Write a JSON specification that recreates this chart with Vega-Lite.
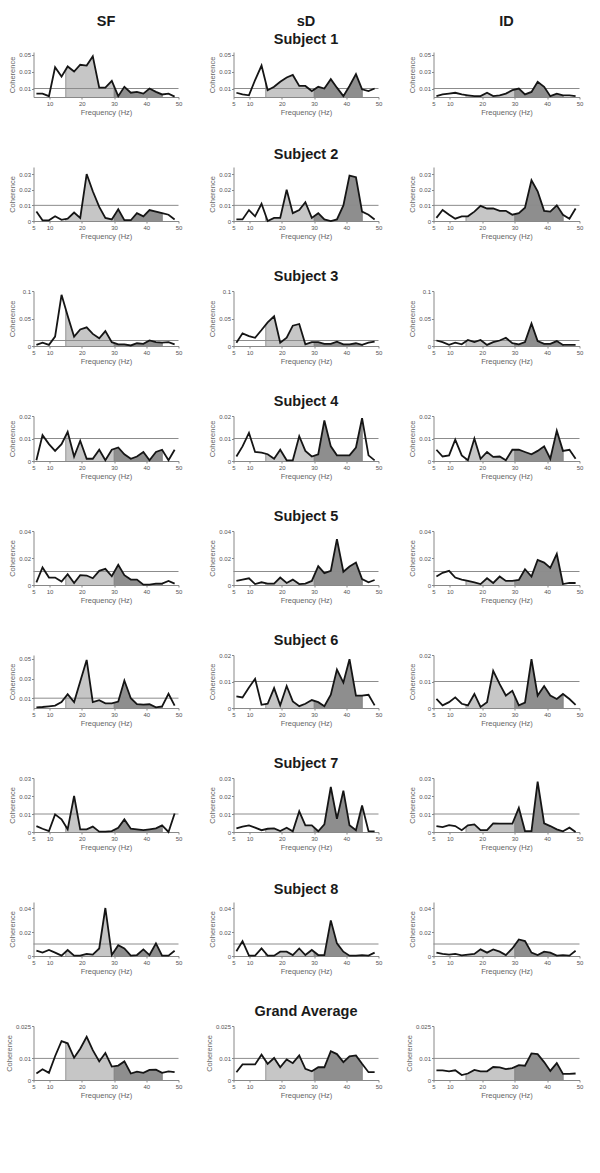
{
"$schema":"https://vega.github.io/schema/vega-lite/v6.json",
"padding":{"left":4.5,"top":14,"right":5,"bottom":5},
"background":"white",
"config":{
 "view":{"stroke":null},
 "font":"Liberation Sans",
 "title":{"font":"Liberation Sans","fontSize":14.5,"fontWeight":"bold","color":"#1a1a1a","offset":4,"lineHeight":18},
 "axis":{"labelFont":"Liberation Sans","titleFont":"Liberation Sans","labelFontSize":6,"titleFontSize":7.5,"titleFontWeight":"normal","labelColor":"#555","titleColor":"#666","domainColor":"#888","tickColor":"#888","tickSize":2,"labelPadding":1,"titlePadding":2,"grid":false,"zindex":1,"labelOverlap":false,"labelFlush":false,"labelBound":false}
},
"datasets":{
"bands":[{"x1":15,"x2":30,"band":"beta"},{"x1":30,"x2":45,"band":"gamma"}],
"edges":[{"e":15},{"e":30},{"e":45}],
"thr":[{"t":0.01}],
"r1a":[{"f":5.9,"c":0.004},{"f":7.8,"c":0.004},{"f":9.8,"c":0.001},{"f":11.7,"c":0.035},{"f":13.7,"c":0.024},{"f":15.6,"c":0.036},{"f":17.6,"c":0.030},{"f":19.5,"c":0.038},{"f":21.5,"c":0.037},{"f":23.4,"c":0.048},{"f":25.4,"c":0.011},{"f":27.3,"c":0.011},{"f":29.3,"c":0.019},{"f":31.3,"c":0.001},{"f":33.2,"c":0.012},{"f":35.2,"c":0.005},{"f":37.1,"c":0.006},{"f":39.1,"c":0.004},{"f":41.0,"c":0.010},{"f":43.0,"c":0.006},{"f":44.9,"c":0.003},{"f":46.9,"c":0.004},{"f":48.8,"c":0.0005}],
"r1b":[{"f":5.9,"c":0.005},{"f":7.8,"c":0.003},{"f":9.8,"c":0.002},{"f":11.7,"c":0.020},{"f":13.7,"c":0.037},{"f":15.6,"c":0.008},{"f":17.6,"c":0.012},{"f":19.5,"c":0.018},{"f":21.5,"c":0.023},{"f":23.4,"c":0.026},{"f":25.4,"c":0.013},{"f":27.3,"c":0.013},{"f":29.3,"c":0.007},{"f":31.3,"c":0.012},{"f":33.2,"c":0.010},{"f":35.2,"c":0.021},{"f":37.1,"c":0.011},{"f":39.1,"c":0.001},{"f":41.0,"c":0.013},{"f":43.0,"c":0.027},{"f":44.9,"c":0.009},{"f":46.9,"c":0.007},{"f":48.8,"c":0.010}],
"r1c":[{"f":5.9,"c":0.001},{"f":7.8,"c":0.003},{"f":9.8,"c":0.004},{"f":11.7,"c":0.005},{"f":13.7,"c":0.003},{"f":15.6,"c":0.002},{"f":17.6,"c":0.001},{"f":19.5,"c":0.001},{"f":21.5,"c":0.005},{"f":23.4,"c":0.001},{"f":25.4,"c":0.002},{"f":27.3,"c":0.004},{"f":29.3,"c":0.008},{"f":31.3,"c":0.010},{"f":33.2,"c":0.003},{"f":35.2,"c":0.006},{"f":37.1,"c":0.018},{"f":39.1,"c":0.012},{"f":41.0,"c":0.001},{"f":43.0,"c":0.004},{"f":44.9,"c":0.002},{"f":46.9,"c":0.002},{"f":48.8,"c":0.001}],
"r2a":[{"f":5.9,"c":0.006},{"f":7.8,"c":0.0004},{"f":9.8,"c":0.0004},{"f":11.7,"c":0.003},{"f":13.7,"c":0.0007},{"f":15.6,"c":0.0015},{"f":17.6,"c":0.0054},{"f":19.5,"c":0.002},{"f":21.5,"c":0.030},{"f":23.4,"c":0.019},{"f":25.4,"c":0.009},{"f":27.3,"c":0.002},{"f":29.3,"c":0.001},{"f":31.3,"c":0.0075},{"f":33.2,"c":0.0005},{"f":35.2,"c":0.0005},{"f":37.1,"c":0.005},{"f":39.1,"c":0.003},{"f":41.0,"c":0.007},{"f":43.0,"c":0.006},{"f":44.9,"c":0.005},{"f":46.9,"c":0.004},{"f":48.8,"c":0.001}],
"r2b":[{"f":5.9,"c":0.001},{"f":7.8,"c":0.001},{"f":9.8,"c":0.007},{"f":11.7,"c":0.003},{"f":13.7,"c":0.011},{"f":15.6,"c":0.0},{"f":17.6,"c":0.002},{"f":19.5,"c":0.002},{"f":21.5,"c":0.020},{"f":23.4,"c":0.005},{"f":25.4,"c":0.007},{"f":27.3,"c":0.012},{"f":29.3,"c":0.002},{"f":31.3,"c":0.005},{"f":33.2,"c":0.001},{"f":35.2,"c":0.0},{"f":37.1,"c":0.001},{"f":39.1,"c":0.010},{"f":41.0,"c":0.029},{"f":43.0,"c":0.028},{"f":44.9,"c":0.006},{"f":46.9,"c":0.004},{"f":48.8,"c":0.001}],
"r2c":[{"f":5.9,"c":0.002},{"f":7.8,"c":0.007},{"f":9.8,"c":0.004},{"f":11.7,"c":0.0015},{"f":13.7,"c":0.003},{"f":15.6,"c":0.003},{"f":17.6,"c":0.006},{"f":19.5,"c":0.0097},{"f":21.5,"c":0.008},{"f":23.4,"c":0.008},{"f":25.4,"c":0.0065},{"f":27.3,"c":0.0065},{"f":29.3,"c":0.004},{"f":31.3,"c":0.005},{"f":33.2,"c":0.0085},{"f":35.2,"c":0.026},{"f":37.1,"c":0.019},{"f":39.1,"c":0.0065},{"f":41.0,"c":0.006},{"f":43.0,"c":0.010},{"f":44.9,"c":0.004},{"f":46.9,"c":0.0015},{"f":48.8,"c":0.008}],
"r3a":[{"f":5.9,"c":0.002},{"f":7.8,"c":0.006},{"f":9.8,"c":0.002},{"f":11.7,"c":0.017},{"f":13.7,"c":0.093},{"f":15.6,"c":0.055},{"f":17.6,"c":0.017},{"f":19.5,"c":0.030},{"f":21.5,"c":0.034},{"f":23.4,"c":0.022},{"f":25.4,"c":0.014},{"f":27.3,"c":0.027},{"f":29.3,"c":0.007},{"f":31.3,"c":0.003},{"f":33.2,"c":0.003},{"f":35.2,"c":0.001},{"f":37.1,"c":0.005},{"f":39.1,"c":0.004},{"f":41.0,"c":0.010},{"f":43.0,"c":0.007},{"f":44.9,"c":0.006},{"f":46.9,"c":0.007},{"f":48.8,"c":0.003}],
"r3b":[{"f":5.9,"c":0.006},{"f":7.8,"c":0.023},{"f":9.8,"c":0.018},{"f":11.7,"c":0.015},{"f":13.7,"c":0.029},{"f":15.6,"c":0.043},{"f":17.6,"c":0.054},{"f":19.5,"c":0.006},{"f":21.5,"c":0.015},{"f":23.4,"c":0.037},{"f":25.4,"c":0.040},{"f":27.3,"c":0.003},{"f":29.3,"c":0.007},{"f":31.3,"c":0.007},{"f":33.2,"c":0.004},{"f":35.2,"c":0.004},{"f":37.1,"c":0.008},{"f":39.1,"c":0.003},{"f":41.0,"c":0.003},{"f":43.0,"c":0.005},{"f":44.9,"c":0.002},{"f":46.9,"c":0.006},{"f":48.8,"c":0.008}],
"r3c":[{"f":5.9,"c":0.010},{"f":7.8,"c":0.007},{"f":9.8,"c":0.002},{"f":11.7,"c":0.006},{"f":13.7,"c":0.003},{"f":15.6,"c":0.011},{"f":17.6,"c":0.007},{"f":19.5,"c":0.011},{"f":21.5,"c":0.002},{"f":23.4,"c":0.007},{"f":25.4,"c":0.010},{"f":27.3,"c":0.015},{"f":29.3,"c":0.005},{"f":31.3,"c":0.003},{"f":33.2,"c":0.007},{"f":35.2,"c":0.041},{"f":37.1,"c":0.009},{"f":39.1,"c":0.004},{"f":41.0,"c":0.004},{"f":43.0,"c":0.009},{"f":44.9,"c":0.002},{"f":46.9,"c":0.002},{"f":48.8,"c":0.002}],
"r4a":[{"f":5.9,"c":0.0003},{"f":7.8,"c":0.0115},{"f":9.8,"c":0.0075},{"f":11.7,"c":0.0045},{"f":13.7,"c":0.0075},{"f":15.6,"c":0.013},{"f":17.6,"c":0.002},{"f":19.5,"c":0.009},{"f":21.5,"c":0.001},{"f":23.4,"c":0.001},{"f":25.4,"c":0.005},{"f":27.3,"c":0.0003},{"f":29.3,"c":0.005},{"f":31.3,"c":0.006},{"f":33.2,"c":0.003},{"f":35.2,"c":0.001},{"f":37.1,"c":0.002},{"f":39.1,"c":0.004},{"f":41.0,"c":0.0003},{"f":43.0,"c":0.004},{"f":44.9,"c":0.005},{"f":46.9,"c":0.0003},{"f":48.8,"c":0.005}],
"r4b":[{"f":5.9,"c":0.002},{"f":7.8,"c":0.0065},{"f":9.8,"c":0.0125},{"f":11.7,"c":0.004},{"f":13.7,"c":0.0037},{"f":15.6,"c":0.003},{"f":17.6,"c":0.001},{"f":19.5,"c":0.005},{"f":21.5,"c":0.0003},{"f":23.4,"c":0.0003},{"f":25.4,"c":0.011},{"f":27.3,"c":0.0045},{"f":29.3,"c":0.002},{"f":31.3,"c":0.003},{"f":33.2,"c":0.018},{"f":35.2,"c":0.0065},{"f":37.1,"c":0.0025},{"f":39.1,"c":0.0025},{"f":41.0,"c":0.0025},{"f":43.0,"c":0.006},{"f":44.9,"c":0.019},{"f":46.9,"c":0.0025},{"f":48.8,"c":0.0003}],
"r4c":[{"f":5.9,"c":0.005},{"f":7.8,"c":0.002},{"f":9.8,"c":0.0025},{"f":11.7,"c":0.0095},{"f":13.7,"c":0.0025},{"f":15.6,"c":0.0003},{"f":17.6,"c":0.010},{"f":19.5,"c":0.001},{"f":21.5,"c":0.004},{"f":23.4,"c":0.0018},{"f":25.4,"c":0.002},{"f":27.3,"c":0.0003},{"f":29.3,"c":0.005},{"f":31.3,"c":0.005},{"f":33.2,"c":0.004},{"f":35.2,"c":0.003},{"f":37.1,"c":0.0045},{"f":39.1,"c":0.0065},{"f":41.0,"c":0.001},{"f":43.0,"c":0.0135},{"f":44.9,"c":0.0045},{"f":46.9,"c":0.005},{"f":48.8,"c":0.001}],
"r5a":[{"f":5.9,"c":0.002},{"f":7.8,"c":0.013},{"f":9.8,"c":0.0055},{"f":11.7,"c":0.0055},{"f":13.7,"c":0.0025},{"f":15.6,"c":0.008},{"f":17.6,"c":0.0015},{"f":19.5,"c":0.0073},{"f":21.5,"c":0.007},{"f":23.4,"c":0.005},{"f":25.4,"c":0.0105},{"f":27.3,"c":0.012},{"f":29.3,"c":0.0065},{"f":31.3,"c":0.015},{"f":33.2,"c":0.0073},{"f":35.2,"c":0.004},{"f":37.1,"c":0.004},{"f":39.1,"c":0.0003},{"f":41.0,"c":0.0003},{"f":43.0,"c":0.001},{"f":44.9,"c":0.001},{"f":46.9,"c":0.003},{"f":48.8,"c":0.001}],
"r5b":[{"f":5.9,"c":0.003},{"f":7.8,"c":0.004},{"f":9.8,"c":0.005},{"f":11.7,"c":0.0007},{"f":13.7,"c":0.002},{"f":15.6,"c":0.001},{"f":17.6,"c":0.001},{"f":19.5,"c":0.0055},{"f":21.5,"c":0.0015},{"f":23.4,"c":0.004},{"f":25.4,"c":0.0007},{"f":27.3,"c":0.001},{"f":29.3,"c":0.003},{"f":31.3,"c":0.014},{"f":33.2,"c":0.0088},{"f":35.2,"c":0.0105},{"f":37.1,"c":0.034},{"f":39.1,"c":0.0098},{"f":41.0,"c":0.0137},{"f":43.0,"c":0.0166},{"f":44.9,"c":0.0044},{"f":46.9,"c":0.002},{"f":48.8,"c":0.0037}],
"r5c":[{"f":5.9,"c":0.0063},{"f":7.8,"c":0.009},{"f":9.8,"c":0.0105},{"f":11.7,"c":0.0055},{"f":13.7,"c":0.004},{"f":15.6,"c":0.003},{"f":17.6,"c":0.002},{"f":19.5,"c":0.0007},{"f":21.5,"c":0.005},{"f":23.4,"c":0.0015},{"f":25.4,"c":0.0063},{"f":27.3,"c":0.003},{"f":29.3,"c":0.003},{"f":31.3,"c":0.0037},{"f":33.2,"c":0.0117},{"f":35.2,"c":0.0063},{"f":37.1,"c":0.0185},{"f":39.1,"c":0.0166},{"f":41.0,"c":0.0127},{"f":43.0,"c":0.023},{"f":44.9,"c":0.0007},{"f":46.9,"c":0.0015},{"f":48.8,"c":0.0015}],
"r6a":[{"f":5.9,"c":0.0007},{"f":7.8,"c":0.001},{"f":9.8,"c":0.0017},{"f":11.7,"c":0.0024},{"f":13.7,"c":0.006},{"f":15.6,"c":0.014},{"f":17.6,"c":0.006},{"f":19.5,"c":0.027},{"f":21.5,"c":0.049},{"f":23.4,"c":0.006},{"f":25.4,"c":0.008},{"f":27.3,"c":0.0048},{"f":29.3,"c":0.0048},{"f":31.3,"c":0.0066},{"f":33.2,"c":0.028},{"f":35.2,"c":0.010},{"f":37.1,"c":0.004},{"f":39.1,"c":0.0034},{"f":41.0,"c":0.0038},{"f":43.0,"c":0.0007},{"f":44.9,"c":0.0017},{"f":46.9,"c":0.0145},{"f":48.8,"c":0.0024}],
"r6b":[{"f":5.9,"c":0.0044},{"f":7.8,"c":0.004},{"f":9.8,"c":0.0077},{"f":11.7,"c":0.011},{"f":13.7,"c":0.0012},{"f":15.6,"c":0.0016},{"f":17.6,"c":0.0075},{"f":19.5,"c":0.001},{"f":21.5,"c":0.0083},{"f":23.4,"c":0.0025},{"f":25.4,"c":0.0007},{"f":27.3,"c":0.0016},{"f":29.3,"c":0.003},{"f":31.3,"c":0.0022},{"f":33.2,"c":0.0007},{"f":35.2,"c":0.005},{"f":37.1,"c":0.0145},{"f":39.1,"c":0.0096},{"f":41.0,"c":0.0184},{"f":43.0,"c":0.0047},{"f":44.9,"c":0.0047},{"f":46.9,"c":0.005},{"f":48.8,"c":0.001}],
"r6c":[{"f":5.9,"c":0.0034},{"f":7.8,"c":0.001},{"f":9.8,"c":0.0022},{"f":11.7,"c":0.004},{"f":13.7,"c":0.0016},{"f":15.6,"c":0.001},{"f":17.6,"c":0.0053},{"f":19.5,"c":0.0004},{"f":21.5,"c":0.0022},{"f":23.4,"c":0.014},{"f":25.4,"c":0.009},{"f":27.3,"c":0.0047},{"f":29.3,"c":0.0065},{"f":31.3,"c":0.001},{"f":33.2,"c":0.002},{"f":35.2,"c":0.0184},{"f":37.1,"c":0.0047},{"f":39.1,"c":0.0083},{"f":41.0,"c":0.0047},{"f":43.0,"c":0.0034},{"f":44.9,"c":0.0053},{"f":46.9,"c":0.0034},{"f":48.8,"c":0.0012}],
"r7a":[{"f":5.9,"c":0.0033},{"f":7.8,"c":0.0018},{"f":9.8,"c":0.0005},{"f":11.7,"c":0.0098},{"f":13.7,"c":0.007},{"f":15.6,"c":0.0015},{"f":17.6,"c":0.020},{"f":19.5,"c":0.0015},{"f":21.5,"c":0.0015},{"f":23.4,"c":0.003},{"f":25.4,"c":0.0002},{"f":27.3,"c":0.0002},{"f":29.3,"c":0.0005},{"f":31.3,"c":0.0024},{"f":33.2,"c":0.007},{"f":35.2,"c":0.0018},{"f":37.1,"c":0.0015},{"f":39.1,"c":0.001},{"f":41.0,"c":0.0015},{"f":43.0,"c":0.002},{"f":44.9,"c":0.0037},{"f":46.9,"c":0.0},{"f":48.8,"c":0.0103}],
"r7b":[{"f":5.9,"c":0.002},{"f":7.8,"c":0.003},{"f":9.8,"c":0.0037},{"f":11.7,"c":0.0024},{"f":13.7,"c":0.001},{"f":15.6,"c":0.0018},{"f":17.6,"c":0.002},{"f":19.5,"c":0.0005},{"f":21.5,"c":0.0024},{"f":23.4,"c":0.0004},{"f":25.4,"c":0.0115},{"f":27.3,"c":0.0037},{"f":29.3,"c":0.0037},{"f":31.3,"c":0.0004},{"f":33.2,"c":0.0042},{"f":35.2,"c":0.025},{"f":37.1,"c":0.0073},{"f":39.1,"c":0.023},{"f":41.0,"c":0.0037},{"f":43.0,"c":0.001},{"f":44.9,"c":0.0147},{"f":46.9,"c":0.0005},{"f":48.8,"c":0.0004}],
"r7c":[{"f":5.9,"c":0.0033},{"f":7.8,"c":0.0027},{"f":9.8,"c":0.0038},{"f":11.7,"c":0.0033},{"f":13.7,"c":0.001},{"f":15.6,"c":0.0037},{"f":17.6,"c":0.0042},{"f":19.5,"c":0.001},{"f":21.5,"c":0.001},{"f":23.4,"c":0.0048},{"f":25.4,"c":0.0046},{"f":27.3,"c":0.0046},{"f":29.3,"c":0.0046},{"f":31.3,"c":0.0134},{"f":33.2,"c":0.0005},{"f":35.2,"c":0.0005},{"f":37.1,"c":0.028},{"f":39.1,"c":0.0048},{"f":41.0,"c":0.0033},{"f":43.0,"c":0.0015},{"f":44.9,"c":0.0004},{"f":46.9,"c":0.0024},{"f":48.8,"c":0.0}],
"r8a":[{"f":5.9,"c":0.0044},{"f":7.8,"c":0.0028},{"f":9.8,"c":0.005},{"f":11.7,"c":0.0028},{"f":13.7,"c":0.0003},{"f":15.6,"c":0.005},{"f":17.6,"c":0.0003},{"f":19.5,"c":0.0003},{"f":21.5,"c":0.0017},{"f":23.4,"c":0.0011},{"f":25.4,"c":0.0063},{"f":27.3,"c":0.040},{"f":29.3,"c":0.0008},{"f":31.3,"c":0.009},{"f":33.2,"c":0.0063},{"f":35.2,"c":0.0003},{"f":37.1,"c":0.0008},{"f":39.1,"c":0.0055},{"f":41.0,"c":0.0008},{"f":43.0,"c":0.0105},{"f":44.9,"c":0.0003},{"f":46.9,"c":0.0003},{"f":48.8,"c":0.0044}],
"r8b":[{"f":5.9,"c":0.004},{"f":7.8,"c":0.0124},{"f":9.8,"c":0.0003},{"f":11.7,"c":0.0003},{"f":13.7,"c":0.0063},{"f":15.6,"c":0.0003},{"f":17.6,"c":0.0003},{"f":19.5,"c":0.0036},{"f":21.5,"c":0.0036},{"f":23.4,"c":0.0008},{"f":25.4,"c":0.0063},{"f":27.3,"c":0.0008},{"f":29.3,"c":0.005},{"f":31.3,"c":0.0008},{"f":33.2,"c":0.0008},{"f":35.2,"c":0.0297},{"f":37.1,"c":0.0105},{"f":39.1,"c":0.0036},{"f":41.0,"c":0.0003},{"f":43.0,"c":0.0003},{"f":44.9,"c":0.0008},{"f":46.9,"c":0.0003},{"f":48.8,"c":0.0028}],
"r8c":[{"f":5.9,"c":0.0028},{"f":7.8,"c":0.0017},{"f":9.8,"c":0.0011},{"f":11.7,"c":0.0017},{"f":13.7,"c":0.0006},{"f":15.6,"c":0.0011},{"f":17.6,"c":0.0017},{"f":19.5,"c":0.0055},{"f":21.5,"c":0.0028},{"f":23.4,"c":0.0055},{"f":25.4,"c":0.0036},{"f":27.3,"c":0.0008},{"f":29.3,"c":0.0063},{"f":31.3,"c":0.0138},{"f":33.2,"c":0.0124},{"f":35.2,"c":0.0028},{"f":37.1,"c":0.0008},{"f":39.1,"c":0.0036},{"f":41.0,"c":0.0028},{"f":43.0,"c":0.0003},{"f":44.9,"c":0.0008},{"f":46.9,"c":0.0003},{"f":48.8,"c":0.0044}],
"r9a":[{"f":5.9,"c":0.003},{"f":7.8,"c":0.005},{"f":9.8,"c":0.0033},{"f":11.7,"c":0.011},{"f":13.7,"c":0.018},{"f":15.6,"c":0.017},{"f":17.6,"c":0.0103},{"f":19.5,"c":0.0145},{"f":21.5,"c":0.020},{"f":23.4,"c":0.0138},{"f":25.4,"c":0.0086},{"f":27.3,"c":0.0125},{"f":29.3,"c":0.0062},{"f":31.3,"c":0.0067},{"f":33.2,"c":0.0086},{"f":35.2,"c":0.003},{"f":37.1,"c":0.0039},{"f":39.1,"c":0.0033},{"f":41.0,"c":0.0047},{"f":43.0,"c":0.0048},{"f":44.9,"c":0.0033},{"f":46.9,"c":0.004},{"f":48.8,"c":0.0036}],
"r9b":[{"f":5.9,"c":0.0036},{"f":7.8,"c":0.0072},{"f":9.8,"c":0.0072},{"f":11.7,"c":0.0072},{"f":13.7,"c":0.0117},{"f":15.6,"c":0.0075},{"f":17.6,"c":0.0102},{"f":19.5,"c":0.0059},{"f":21.5,"c":0.0095},{"f":23.4,"c":0.0078},{"f":25.4,"c":0.0114},{"f":27.3,"c":0.0052},{"f":29.3,"c":0.004},{"f":31.3,"c":0.0059},{"f":33.2,"c":0.0059},{"f":35.2,"c":0.0133},{"f":37.1,"c":0.012},{"f":39.1,"c":0.0083},{"f":41.0,"c":0.011},{"f":43.0,"c":0.0114},{"f":44.9,"c":0.0075},{"f":46.9,"c":0.0036},{"f":48.8,"c":0.0036}],
"r9c":[{"f":5.9,"c":0.0045},{"f":7.8,"c":0.0045},{"f":9.8,"c":0.004},{"f":11.7,"c":0.0045},{"f":13.7,"c":0.0023},{"f":15.6,"c":0.003},{"f":17.6,"c":0.0047},{"f":19.5,"c":0.004},{"f":21.5,"c":0.004},{"f":23.4,"c":0.006},{"f":25.4,"c":0.0058},{"f":27.3,"c":0.005},{"f":29.3,"c":0.0055},{"f":31.3,"c":0.0069},{"f":33.2,"c":0.0066},{"f":35.2,"c":0.0123},{"f":37.1,"c":0.012},{"f":39.1,"c":0.0083},{"f":41.0,"c":0.0042},{"f":43.0,"c":0.0078},{"f":44.9,"c":0.0028},{"f":46.9,"c":0.0028},{"f":48.8,"c":0.003}]
},
"columns":3,
"spacing":{"row":70,"column":55},
"bounds":"flush",
"concat":[
{"width":145,"height":45,"title":{"text":["SF"," "]},"layer":[
{"data":{"name":"bands"},"mark":{"type":"rect"},"encoding":{"x":{"field":"x1","type":"quantitative","axis":{"title":"Frequency (Hz)"}},"x2":{"field":"x2"},"color":{"field":"band","type":"nominal","scale":{"domain":["beta","gamma"],"range":["#c6c6c6","#8e8e8e"]},"legend":null}}},
{"data":{"name":"edges"},"mark":{"type":"rule","color":"#7a7a7a","strokeWidth":0.7},"encoding":{"x":{"field":"e","type":"quantitative","axis":{"title":"Frequency (Hz)"}}}},
{"data":{"name":"r1a"},"mark":{"type":"area","color":"white"},"encoding":{"x":{"field":"f","type":"quantitative","axis":{"title":"Frequency (Hz)"}},"y":{"field":"c","type":"quantitative","axis":{"title":"Coherence"}},"y2":{"datum":0.053}}},
{"data":{"name":"thr"},"mark":{"type":"rule","color":"#8c8c8c","strokeWidth":1},"encoding":{"y":{"field":"t","type":"quantitative","axis":{"title":"Coherence"}}}},
{"data":{"name":"r1a"},"mark":{"type":"line","color":"#151515","strokeWidth":1.8},"encoding":{"x":{"field":"f","type":"quantitative","scale":{"domain":[5,50],"nice":false,"zero":false},"axis":{"values":[10,20,30,40,50],"tickCount":20,"format":"d","labelOverlap":false,"title":"Frequency (Hz)"}},"y":{"field":"c","type":"quantitative","scale":{"domain":[0,0.053],"nice":false},"axis":{"values":[0.01,0.03,0.05],"tickCount":20,"format":".3~f","labelOverlap":false,"title":"Coherence"}}}}]},
{"width":145,"height":45,"title":{"text":["sD","Subject 1"]},"layer":[
{"data":{"name":"bands"},"mark":{"type":"rect"},"encoding":{"x":{"field":"x1","type":"quantitative","axis":{"title":"Frequency (Hz)"}},"x2":{"field":"x2"},"color":{"field":"band","type":"nominal","scale":{"domain":["beta","gamma"],"range":["#c6c6c6","#8e8e8e"]},"legend":null}}},
{"data":{"name":"edges"},"mark":{"type":"rule","color":"#7a7a7a","strokeWidth":0.7},"encoding":{"x":{"field":"e","type":"quantitative","axis":{"title":"Frequency (Hz)"}}}},
{"data":{"name":"r1b"},"mark":{"type":"area","color":"white"},"encoding":{"x":{"field":"f","type":"quantitative","axis":{"title":"Frequency (Hz)"}},"y":{"field":"c","type":"quantitative","axis":{"title":"Coherence"}},"y2":{"datum":0.053}}},
{"data":{"name":"thr"},"mark":{"type":"rule","color":"#8c8c8c","strokeWidth":1},"encoding":{"y":{"field":"t","type":"quantitative","axis":{"title":"Coherence"}}}},
{"data":{"name":"r1b"},"mark":{"type":"line","color":"#151515","strokeWidth":1.8},"encoding":{"x":{"field":"f","type":"quantitative","scale":{"domain":[5,50],"nice":false,"zero":false},"axis":{"values":[5,10,20,30,40,50],"tickCount":20,"format":"d","labelOverlap":false,"title":"Frequency (Hz)"}},"y":{"field":"c","type":"quantitative","scale":{"domain":[0,0.053],"nice":false},"axis":{"values":[0.01,0.03,0.05],"tickCount":20,"format":".3~f","labelOverlap":false,"title":"Coherence"}}}}]},
{"width":146,"height":45,"title":{"text":["ID"," "]},"layer":[
{"data":{"name":"bands"},"mark":{"type":"rect"},"encoding":{"x":{"field":"x1","type":"quantitative","axis":{"title":"Frequency (Hz)"}},"x2":{"field":"x2"},"color":{"field":"band","type":"nominal","scale":{"domain":["beta","gamma"],"range":["#c6c6c6","#8e8e8e"]},"legend":null}}},
{"data":{"name":"edges"},"mark":{"type":"rule","color":"#7a7a7a","strokeWidth":0.7},"encoding":{"x":{"field":"e","type":"quantitative","axis":{"title":"Frequency (Hz)"}}}},
{"data":{"name":"r1c"},"mark":{"type":"area","color":"white"},"encoding":{"x":{"field":"f","type":"quantitative","axis":{"title":"Frequency (Hz)"}},"y":{"field":"c","type":"quantitative","axis":{"title":"Coherence"}},"y2":{"datum":0.053}}},
{"data":{"name":"thr"},"mark":{"type":"rule","color":"#8c8c8c","strokeWidth":1},"encoding":{"y":{"field":"t","type":"quantitative","axis":{"title":"Coherence"}}}},
{"data":{"name":"r1c"},"mark":{"type":"line","color":"#151515","strokeWidth":1.8},"encoding":{"x":{"field":"f","type":"quantitative","scale":{"domain":[5,50],"nice":false,"zero":false},"axis":{"values":[5,10,20,30,40,50],"tickCount":20,"format":"d","labelOverlap":false,"title":"Frequency (Hz)"}},"y":{"field":"c","type":"quantitative","scale":{"domain":[0,0.053],"nice":false},"axis":{"values":[0.01,0.03,0.05],"tickCount":20,"format":".3~f","labelOverlap":false,"title":"Coherence"}}}}]},
{"width":145,"height":54,"layer":[
{"data":{"name":"bands"},"mark":{"type":"rect"},"encoding":{"x":{"field":"x1","type":"quantitative","axis":{"title":"Frequency (Hz)"}},"x2":{"field":"x2"},"color":{"field":"band","type":"nominal","scale":{"domain":["beta","gamma"],"range":["#c6c6c6","#8e8e8e"]},"legend":null}}},
{"data":{"name":"edges"},"mark":{"type":"rule","color":"#7a7a7a","strokeWidth":0.7},"encoding":{"x":{"field":"e","type":"quantitative","axis":{"title":"Frequency (Hz)"}}}},
{"data":{"name":"r2a"},"mark":{"type":"area","color":"white"},"encoding":{"x":{"field":"f","type":"quantitative","axis":{"title":"Frequency (Hz)"}},"y":{"field":"c","type":"quantitative","axis":{"title":"Coherence"}},"y2":{"datum":0.0345}}},
{"data":{"name":"thr"},"mark":{"type":"rule","color":"#8c8c8c","strokeWidth":1},"encoding":{"y":{"field":"t","type":"quantitative","axis":{"title":"Coherence"}}}},
{"data":{"name":"r2a"},"mark":{"type":"line","color":"#151515","strokeWidth":1.8},"encoding":{"x":{"field":"f","type":"quantitative","scale":{"domain":[5,50],"nice":false,"zero":false},"axis":{"values":[5,10,20,30,40,50],"tickCount":20,"format":"d","labelOverlap":false,"title":"Frequency (Hz)"}},"y":{"field":"c","type":"quantitative","scale":{"domain":[0,0.0345],"nice":false},"axis":{"values":[0,0.01,0.02,0.03],"tickCount":20,"format":".3~f","labelOverlap":false,"title":"Coherence"}}}}]},
{"width":145,"height":54,"title":{"text":"Subject 2"},"layer":[
{"data":{"name":"bands"},"mark":{"type":"rect"},"encoding":{"x":{"field":"x1","type":"quantitative","axis":{"title":"Frequency (Hz)"}},"x2":{"field":"x2"},"color":{"field":"band","type":"nominal","scale":{"domain":["beta","gamma"],"range":["#c6c6c6","#8e8e8e"]},"legend":null}}},
{"data":{"name":"edges"},"mark":{"type":"rule","color":"#7a7a7a","strokeWidth":0.7},"encoding":{"x":{"field":"e","type":"quantitative","axis":{"title":"Frequency (Hz)"}}}},
{"data":{"name":"r2b"},"mark":{"type":"area","color":"white"},"encoding":{"x":{"field":"f","type":"quantitative","axis":{"title":"Frequency (Hz)"}},"y":{"field":"c","type":"quantitative","axis":{"title":"Coherence"}},"y2":{"datum":0.0345}}},
{"data":{"name":"thr"},"mark":{"type":"rule","color":"#8c8c8c","strokeWidth":1},"encoding":{"y":{"field":"t","type":"quantitative","axis":{"title":"Coherence"}}}},
{"data":{"name":"r2b"},"mark":{"type":"line","color":"#151515","strokeWidth":1.8},"encoding":{"x":{"field":"f","type":"quantitative","scale":{"domain":[5,50],"nice":false,"zero":false},"axis":{"values":[5,10,20,30,40,50],"tickCount":20,"format":"d","labelOverlap":false,"title":"Frequency (Hz)"}},"y":{"field":"c","type":"quantitative","scale":{"domain":[0,0.0345],"nice":false},"axis":{"values":[0,0.01,0.02,0.03],"tickCount":20,"format":".3~f","labelOverlap":false,"title":"Coherence"}}}}]},
{"width":146,"height":54,"layer":[
{"data":{"name":"bands"},"mark":{"type":"rect"},"encoding":{"x":{"field":"x1","type":"quantitative","axis":{"title":"Frequency (Hz)"}},"x2":{"field":"x2"},"color":{"field":"band","type":"nominal","scale":{"domain":["beta","gamma"],"range":["#c6c6c6","#8e8e8e"]},"legend":null}}},
{"data":{"name":"edges"},"mark":{"type":"rule","color":"#7a7a7a","strokeWidth":0.7},"encoding":{"x":{"field":"e","type":"quantitative","axis":{"title":"Frequency (Hz)"}}}},
{"data":{"name":"r2c"},"mark":{"type":"area","color":"white"},"encoding":{"x":{"field":"f","type":"quantitative","axis":{"title":"Frequency (Hz)"}},"y":{"field":"c","type":"quantitative","axis":{"title":"Coherence"}},"y2":{"datum":0.0345}}},
{"data":{"name":"thr"},"mark":{"type":"rule","color":"#8c8c8c","strokeWidth":1},"encoding":{"y":{"field":"t","type":"quantitative","axis":{"title":"Coherence"}}}},
{"data":{"name":"r2c"},"mark":{"type":"line","color":"#151515","strokeWidth":1.8},"encoding":{"x":{"field":"f","type":"quantitative","scale":{"domain":[5,50],"nice":false,"zero":false},"axis":{"values":[5,10,20,30,40,50],"tickCount":20,"format":"d","labelOverlap":false,"title":"Frequency (Hz)"}},"y":{"field":"c","type":"quantitative","scale":{"domain":[0,0.0345],"nice":false},"axis":{"values":[0,0.01,0.02,0.03],"tickCount":20,"format":".3~f","labelOverlap":false,"title":"Coherence"}}}}]},
{"width":145,"height":55,"layer":[
{"data":{"name":"bands"},"mark":{"type":"rect"},"encoding":{"x":{"field":"x1","type":"quantitative","axis":{"title":"Frequency (Hz)"}},"x2":{"field":"x2"},"color":{"field":"band","type":"nominal","scale":{"domain":["beta","gamma"],"range":["#c6c6c6","#8e8e8e"]},"legend":null}}},
{"data":{"name":"edges"},"mark":{"type":"rule","color":"#7a7a7a","strokeWidth":0.7},"encoding":{"x":{"field":"e","type":"quantitative","axis":{"title":"Frequency (Hz)"}}}},
{"data":{"name":"r3a"},"mark":{"type":"area","color":"white"},"encoding":{"x":{"field":"f","type":"quantitative","axis":{"title":"Frequency (Hz)"}},"y":{"field":"c","type":"quantitative","axis":{"title":"Coherence"}},"y2":{"datum":0.1}}},
{"data":{"name":"thr"},"mark":{"type":"rule","color":"#8c8c8c","strokeWidth":1},"encoding":{"y":{"field":"t","type":"quantitative","axis":{"title":"Coherence"}}}},
{"data":{"name":"r3a"},"mark":{"type":"line","color":"#151515","strokeWidth":1.8},"encoding":{"x":{"field":"f","type":"quantitative","scale":{"domain":[5,50],"nice":false,"zero":false},"axis":{"values":[5,10,20,30,40,50],"tickCount":20,"format":"d","labelOverlap":false,"title":"Frequency (Hz)"}},"y":{"field":"c","type":"quantitative","scale":{"domain":[0,0.1],"nice":false},"axis":{"values":[0,0.05,0.1],"tickCount":20,"format":".3~f","labelOverlap":false,"title":"Coherence"}}}}]},
{"width":145,"height":55,"title":{"text":"Subject 3"},"layer":[
{"data":{"name":"bands"},"mark":{"type":"rect"},"encoding":{"x":{"field":"x1","type":"quantitative","axis":{"title":"Frequency (Hz)"}},"x2":{"field":"x2"},"color":{"field":"band","type":"nominal","scale":{"domain":["beta","gamma"],"range":["#c6c6c6","#8e8e8e"]},"legend":null}}},
{"data":{"name":"edges"},"mark":{"type":"rule","color":"#7a7a7a","strokeWidth":0.7},"encoding":{"x":{"field":"e","type":"quantitative","axis":{"title":"Frequency (Hz)"}}}},
{"data":{"name":"r3b"},"mark":{"type":"area","color":"white"},"encoding":{"x":{"field":"f","type":"quantitative","axis":{"title":"Frequency (Hz)"}},"y":{"field":"c","type":"quantitative","axis":{"title":"Coherence"}},"y2":{"datum":0.1}}},
{"data":{"name":"thr"},"mark":{"type":"rule","color":"#8c8c8c","strokeWidth":1},"encoding":{"y":{"field":"t","type":"quantitative","axis":{"title":"Coherence"}}}},
{"data":{"name":"r3b"},"mark":{"type":"line","color":"#151515","strokeWidth":1.8},"encoding":{"x":{"field":"f","type":"quantitative","scale":{"domain":[5,50],"nice":false,"zero":false},"axis":{"values":[5,10,20,30,40,50],"tickCount":20,"format":"d","labelOverlap":false,"title":"Frequency (Hz)"}},"y":{"field":"c","type":"quantitative","scale":{"domain":[0,0.1],"nice":false},"axis":{"values":[0,0.05,0.1],"tickCount":20,"format":".3~f","labelOverlap":false,"title":"Coherence"}}}}]},
{"width":146,"height":55,"layer":[
{"data":{"name":"bands"},"mark":{"type":"rect"},"encoding":{"x":{"field":"x1","type":"quantitative","axis":{"title":"Frequency (Hz)"}},"x2":{"field":"x2"},"color":{"field":"band","type":"nominal","scale":{"domain":["beta","gamma"],"range":["#c6c6c6","#8e8e8e"]},"legend":null}}},
{"data":{"name":"edges"},"mark":{"type":"rule","color":"#7a7a7a","strokeWidth":0.7},"encoding":{"x":{"field":"e","type":"quantitative","axis":{"title":"Frequency (Hz)"}}}},
{"data":{"name":"r3c"},"mark":{"type":"area","color":"white"},"encoding":{"x":{"field":"f","type":"quantitative","axis":{"title":"Frequency (Hz)"}},"y":{"field":"c","type":"quantitative","axis":{"title":"Coherence"}},"y2":{"datum":0.1}}},
{"data":{"name":"thr"},"mark":{"type":"rule","color":"#8c8c8c","strokeWidth":1},"encoding":{"y":{"field":"t","type":"quantitative","axis":{"title":"Coherence"}}}},
{"data":{"name":"r3c"},"mark":{"type":"line","color":"#151515","strokeWidth":1.8},"encoding":{"x":{"field":"f","type":"quantitative","scale":{"domain":[5,50],"nice":false,"zero":false},"axis":{"values":[5,10,20,30,40,50],"tickCount":20,"format":"d","labelOverlap":false,"title":"Frequency (Hz)"}},"y":{"field":"c","type":"quantitative","scale":{"domain":[0,0.1],"nice":false},"axis":{"values":[0,0.05,0.1],"tickCount":20,"format":".3~f","labelOverlap":false,"title":"Coherence"}}}}]},
{"width":145,"height":45,"layer":[
{"data":{"name":"bands"},"mark":{"type":"rect"},"encoding":{"x":{"field":"x1","type":"quantitative","axis":{"title":"Frequency (Hz)"}},"x2":{"field":"x2"},"color":{"field":"band","type":"nominal","scale":{"domain":["beta","gamma"],"range":["#c6c6c6","#8e8e8e"]},"legend":null}}},
{"data":{"name":"edges"},"mark":{"type":"rule","color":"#7a7a7a","strokeWidth":0.7},"encoding":{"x":{"field":"e","type":"quantitative","axis":{"title":"Frequency (Hz)"}}}},
{"data":{"name":"r4a"},"mark":{"type":"area","color":"white"},"encoding":{"x":{"field":"f","type":"quantitative","axis":{"title":"Frequency (Hz)"}},"y":{"field":"c","type":"quantitative","axis":{"title":"Coherence"}},"y2":{"datum":0.02}}},
{"data":{"name":"thr"},"mark":{"type":"rule","color":"#8c8c8c","strokeWidth":1},"encoding":{"y":{"field":"t","type":"quantitative","axis":{"title":"Coherence"}}}},
{"data":{"name":"r4a"},"mark":{"type":"line","color":"#151515","strokeWidth":1.8},"encoding":{"x":{"field":"f","type":"quantitative","scale":{"domain":[5,50],"nice":false,"zero":false},"axis":{"values":[5,10,20,30,40,50],"tickCount":20,"format":"d","labelOverlap":false,"title":"Frequency (Hz)"}},"y":{"field":"c","type":"quantitative","scale":{"domain":[0,0.02],"nice":false},"axis":{"values":[0,0.01,0.02],"tickCount":20,"format":".3~f","labelOverlap":false,"title":"Coherence"}}}}]},
{"width":145,"height":45,"title":{"text":"Subject 4"},"layer":[
{"data":{"name":"bands"},"mark":{"type":"rect"},"encoding":{"x":{"field":"x1","type":"quantitative","axis":{"title":"Frequency (Hz)"}},"x2":{"field":"x2"},"color":{"field":"band","type":"nominal","scale":{"domain":["beta","gamma"],"range":["#c6c6c6","#8e8e8e"]},"legend":null}}},
{"data":{"name":"edges"},"mark":{"type":"rule","color":"#7a7a7a","strokeWidth":0.7},"encoding":{"x":{"field":"e","type":"quantitative","axis":{"title":"Frequency (Hz)"}}}},
{"data":{"name":"r4b"},"mark":{"type":"area","color":"white"},"encoding":{"x":{"field":"f","type":"quantitative","axis":{"title":"Frequency (Hz)"}},"y":{"field":"c","type":"quantitative","axis":{"title":"Coherence"}},"y2":{"datum":0.02}}},
{"data":{"name":"thr"},"mark":{"type":"rule","color":"#8c8c8c","strokeWidth":1},"encoding":{"y":{"field":"t","type":"quantitative","axis":{"title":"Coherence"}}}},
{"data":{"name":"r4b"},"mark":{"type":"line","color":"#151515","strokeWidth":1.8},"encoding":{"x":{"field":"f","type":"quantitative","scale":{"domain":[5,50],"nice":false,"zero":false},"axis":{"values":[5,10,20,30,40,50],"tickCount":20,"format":"d","labelOverlap":false,"title":"Frequency (Hz)"}},"y":{"field":"c","type":"quantitative","scale":{"domain":[0,0.02],"nice":false},"axis":{"values":[0,0.01,0.02],"tickCount":20,"format":".3~f","labelOverlap":false,"title":"Coherence"}}}}]},
{"width":146,"height":45,"layer":[
{"data":{"name":"bands"},"mark":{"type":"rect"},"encoding":{"x":{"field":"x1","type":"quantitative","axis":{"title":"Frequency (Hz)"}},"x2":{"field":"x2"},"color":{"field":"band","type":"nominal","scale":{"domain":["beta","gamma"],"range":["#c6c6c6","#8e8e8e"]},"legend":null}}},
{"data":{"name":"edges"},"mark":{"type":"rule","color":"#7a7a7a","strokeWidth":0.7},"encoding":{"x":{"field":"e","type":"quantitative","axis":{"title":"Frequency (Hz)"}}}},
{"data":{"name":"r4c"},"mark":{"type":"area","color":"white"},"encoding":{"x":{"field":"f","type":"quantitative","axis":{"title":"Frequency (Hz)"}},"y":{"field":"c","type":"quantitative","axis":{"title":"Coherence"}},"y2":{"datum":0.02}}},
{"data":{"name":"thr"},"mark":{"type":"rule","color":"#8c8c8c","strokeWidth":1},"encoding":{"y":{"field":"t","type":"quantitative","axis":{"title":"Coherence"}}}},
{"data":{"name":"r4c"},"mark":{"type":"line","color":"#151515","strokeWidth":1.8},"encoding":{"x":{"field":"f","type":"quantitative","scale":{"domain":[5,50],"nice":false,"zero":false},"axis":{"values":[5,10,20,30,40,50],"tickCount":20,"format":"d","labelOverlap":false,"title":"Frequency (Hz)"}},"y":{"field":"c","type":"quantitative","scale":{"domain":[0,0.02],"nice":false},"axis":{"values":[0,0.01,0.02],"tickCount":20,"format":".3~f","labelOverlap":false,"title":"Coherence"}}}}]},
{"width":145,"height":54,"layer":[
{"data":{"name":"bands"},"mark":{"type":"rect"},"encoding":{"x":{"field":"x1","type":"quantitative","axis":{"title":"Frequency (Hz)"}},"x2":{"field":"x2"},"color":{"field":"band","type":"nominal","scale":{"domain":["beta","gamma"],"range":["#c6c6c6","#8e8e8e"]},"legend":null}}},
{"data":{"name":"edges"},"mark":{"type":"rule","color":"#7a7a7a","strokeWidth":0.7},"encoding":{"x":{"field":"e","type":"quantitative","axis":{"title":"Frequency (Hz)"}}}},
{"data":{"name":"r5a"},"mark":{"type":"area","color":"white"},"encoding":{"x":{"field":"f","type":"quantitative","axis":{"title":"Frequency (Hz)"}},"y":{"field":"c","type":"quantitative","axis":{"title":"Coherence"}},"y2":{"datum":0.04}}},
{"data":{"name":"thr"},"mark":{"type":"rule","color":"#8c8c8c","strokeWidth":1},"encoding":{"y":{"field":"t","type":"quantitative","axis":{"title":"Coherence"}}}},
{"data":{"name":"r5a"},"mark":{"type":"line","color":"#151515","strokeWidth":1.8},"encoding":{"x":{"field":"f","type":"quantitative","scale":{"domain":[5,50],"nice":false,"zero":false},"axis":{"values":[5,10,20,30,40,50],"tickCount":20,"format":"d","labelOverlap":false,"title":"Frequency (Hz)"}},"y":{"field":"c","type":"quantitative","scale":{"domain":[0,0.04],"nice":false},"axis":{"values":[0,0.02,0.04],"tickCount":20,"format":".3~f","labelOverlap":false,"title":"Coherence"}}}}]},
{"width":145,"height":54,"title":{"text":"Subject 5"},"layer":[
{"data":{"name":"bands"},"mark":{"type":"rect"},"encoding":{"x":{"field":"x1","type":"quantitative","axis":{"title":"Frequency (Hz)"}},"x2":{"field":"x2"},"color":{"field":"band","type":"nominal","scale":{"domain":["beta","gamma"],"range":["#c6c6c6","#8e8e8e"]},"legend":null}}},
{"data":{"name":"edges"},"mark":{"type":"rule","color":"#7a7a7a","strokeWidth":0.7},"encoding":{"x":{"field":"e","type":"quantitative","axis":{"title":"Frequency (Hz)"}}}},
{"data":{"name":"r5b"},"mark":{"type":"area","color":"white"},"encoding":{"x":{"field":"f","type":"quantitative","axis":{"title":"Frequency (Hz)"}},"y":{"field":"c","type":"quantitative","axis":{"title":"Coherence"}},"y2":{"datum":0.04}}},
{"data":{"name":"thr"},"mark":{"type":"rule","color":"#8c8c8c","strokeWidth":1},"encoding":{"y":{"field":"t","type":"quantitative","axis":{"title":"Coherence"}}}},
{"data":{"name":"r5b"},"mark":{"type":"line","color":"#151515","strokeWidth":1.8},"encoding":{"x":{"field":"f","type":"quantitative","scale":{"domain":[5,50],"nice":false,"zero":false},"axis":{"values":[5,10,20,30,40,50],"tickCount":20,"format":"d","labelOverlap":false,"title":"Frequency (Hz)"}},"y":{"field":"c","type":"quantitative","scale":{"domain":[0,0.04],"nice":false},"axis":{"values":[0,0.02,0.04],"tickCount":20,"format":".3~f","labelOverlap":false,"title":"Coherence"}}}}]},
{"width":146,"height":54,"layer":[
{"data":{"name":"bands"},"mark":{"type":"rect"},"encoding":{"x":{"field":"x1","type":"quantitative","axis":{"title":"Frequency (Hz)"}},"x2":{"field":"x2"},"color":{"field":"band","type":"nominal","scale":{"domain":["beta","gamma"],"range":["#c6c6c6","#8e8e8e"]},"legend":null}}},
{"data":{"name":"edges"},"mark":{"type":"rule","color":"#7a7a7a","strokeWidth":0.7},"encoding":{"x":{"field":"e","type":"quantitative","axis":{"title":"Frequency (Hz)"}}}},
{"data":{"name":"r5c"},"mark":{"type":"area","color":"white"},"encoding":{"x":{"field":"f","type":"quantitative","axis":{"title":"Frequency (Hz)"}},"y":{"field":"c","type":"quantitative","axis":{"title":"Coherence"}},"y2":{"datum":0.04}}},
{"data":{"name":"thr"},"mark":{"type":"rule","color":"#8c8c8c","strokeWidth":1},"encoding":{"y":{"field":"t","type":"quantitative","axis":{"title":"Coherence"}}}},
{"data":{"name":"r5c"},"mark":{"type":"line","color":"#151515","strokeWidth":1.8},"encoding":{"x":{"field":"f","type":"quantitative","scale":{"domain":[5,50],"nice":false,"zero":false},"axis":{"values":[5,10,20,30,40,50],"tickCount":20,"format":"d","labelOverlap":false,"title":"Frequency (Hz)"}},"y":{"field":"c","type":"quantitative","scale":{"domain":[0,0.04],"nice":false},"axis":{"values":[0,0.02,0.04],"tickCount":20,"format":".3~f","labelOverlap":false,"title":"Coherence"}}}}]},
{"width":145,"height":53,"layer":[
{"data":{"name":"bands"},"mark":{"type":"rect"},"encoding":{"x":{"field":"x1","type":"quantitative","axis":{"title":"Frequency (Hz)"}},"x2":{"field":"x2"},"color":{"field":"band","type":"nominal","scale":{"domain":["beta","gamma"],"range":["#c6c6c6","#8e8e8e"]},"legend":null}}},
{"data":{"name":"edges"},"mark":{"type":"rule","color":"#7a7a7a","strokeWidth":0.7},"encoding":{"x":{"field":"e","type":"quantitative","axis":{"title":"Frequency (Hz)"}}}},
{"data":{"name":"r6a"},"mark":{"type":"area","color":"white"},"encoding":{"x":{"field":"f","type":"quantitative","axis":{"title":"Frequency (Hz)"}},"y":{"field":"c","type":"quantitative","axis":{"title":"Coherence"}},"y2":{"datum":0.054}}},
{"data":{"name":"thr"},"mark":{"type":"rule","color":"#8c8c8c","strokeWidth":1},"encoding":{"y":{"field":"t","type":"quantitative","axis":{"title":"Coherence"}}}},
{"data":{"name":"r6a"},"mark":{"type":"line","color":"#151515","strokeWidth":1.8},"encoding":{"x":{"field":"f","type":"quantitative","scale":{"domain":[5,50],"nice":false,"zero":false},"axis":{"values":[5,10,20,30,40,50],"tickCount":20,"format":"d","labelOverlap":false,"title":"Frequency (Hz)"}},"y":{"field":"c","type":"quantitative","scale":{"domain":[0,0.054],"nice":false},"axis":{"values":[0.01,0.03,0.05],"tickCount":20,"format":".3~f","labelOverlap":false,"title":"Coherence"}}}}]},
{"width":145,"height":53,"title":{"text":"Subject 6"},"layer":[
{"data":{"name":"bands"},"mark":{"type":"rect"},"encoding":{"x":{"field":"x1","type":"quantitative","axis":{"title":"Frequency (Hz)"}},"x2":{"field":"x2"},"color":{"field":"band","type":"nominal","scale":{"domain":["beta","gamma"],"range":["#c6c6c6","#8e8e8e"]},"legend":null}}},
{"data":{"name":"edges"},"mark":{"type":"rule","color":"#7a7a7a","strokeWidth":0.7},"encoding":{"x":{"field":"e","type":"quantitative","axis":{"title":"Frequency (Hz)"}}}},
{"data":{"name":"r6b"},"mark":{"type":"area","color":"white"},"encoding":{"x":{"field":"f","type":"quantitative","axis":{"title":"Frequency (Hz)"}},"y":{"field":"c","type":"quantitative","axis":{"title":"Coherence"}},"y2":{"datum":0.02}}},
{"data":{"name":"thr"},"mark":{"type":"rule","color":"#8c8c8c","strokeWidth":1},"encoding":{"y":{"field":"t","type":"quantitative","axis":{"title":"Coherence"}}}},
{"data":{"name":"r6b"},"mark":{"type":"line","color":"#151515","strokeWidth":1.8},"encoding":{"x":{"field":"f","type":"quantitative","scale":{"domain":[5,50],"nice":false,"zero":false},"axis":{"values":[5,10,20,30,40,50],"tickCount":20,"format":"d","labelOverlap":false,"title":"Frequency (Hz)"}},"y":{"field":"c","type":"quantitative","scale":{"domain":[0,0.02],"nice":false},"axis":{"values":[0,0.01,0.02],"tickCount":20,"format":".3~f","labelOverlap":false,"title":"Coherence"}}}}]},
{"width":146,"height":53,"layer":[
{"data":{"name":"bands"},"mark":{"type":"rect"},"encoding":{"x":{"field":"x1","type":"quantitative","axis":{"title":"Frequency (Hz)"}},"x2":{"field":"x2"},"color":{"field":"band","type":"nominal","scale":{"domain":["beta","gamma"],"range":["#c6c6c6","#8e8e8e"]},"legend":null}}},
{"data":{"name":"edges"},"mark":{"type":"rule","color":"#7a7a7a","strokeWidth":0.7},"encoding":{"x":{"field":"e","type":"quantitative","axis":{"title":"Frequency (Hz)"}}}},
{"data":{"name":"r6c"},"mark":{"type":"area","color":"white"},"encoding":{"x":{"field":"f","type":"quantitative","axis":{"title":"Frequency (Hz)"}},"y":{"field":"c","type":"quantitative","axis":{"title":"Coherence"}},"y2":{"datum":0.02}}},
{"data":{"name":"thr"},"mark":{"type":"rule","color":"#8c8c8c","strokeWidth":1},"encoding":{"y":{"field":"t","type":"quantitative","axis":{"title":"Coherence"}}}},
{"data":{"name":"r6c"},"mark":{"type":"line","color":"#151515","strokeWidth":1.8},"encoding":{"x":{"field":"f","type":"quantitative","scale":{"domain":[5,50],"nice":false,"zero":false},"axis":{"values":[5,10,20,30,40,50],"tickCount":20,"format":"d","labelOverlap":false,"title":"Frequency (Hz)"}},"y":{"field":"c","type":"quantitative","scale":{"domain":[0,0.02],"nice":false},"axis":{"values":[0,0.01,0.02],"tickCount":20,"format":".3~f","labelOverlap":false,"title":"Coherence"}}}}]},
{"width":145,"height":54,"layer":[
{"data":{"name":"bands"},"mark":{"type":"rect"},"encoding":{"x":{"field":"x1","type":"quantitative","axis":{"title":"Frequency (Hz)"}},"x2":{"field":"x2"},"color":{"field":"band","type":"nominal","scale":{"domain":["beta","gamma"],"range":["#c6c6c6","#8e8e8e"]},"legend":null}}},
{"data":{"name":"edges"},"mark":{"type":"rule","color":"#7a7a7a","strokeWidth":0.7},"encoding":{"x":{"field":"e","type":"quantitative","axis":{"title":"Frequency (Hz)"}}}},
{"data":{"name":"r7a"},"mark":{"type":"area","color":"white"},"encoding":{"x":{"field":"f","type":"quantitative","axis":{"title":"Frequency (Hz)"}},"y":{"field":"c","type":"quantitative","axis":{"title":"Coherence"}},"y2":{"datum":0.03}}},
{"data":{"name":"thr"},"mark":{"type":"rule","color":"#8c8c8c","strokeWidth":1},"encoding":{"y":{"field":"t","type":"quantitative","axis":{"title":"Coherence"}}}},
{"data":{"name":"r7a"},"mark":{"type":"line","color":"#151515","strokeWidth":1.8},"encoding":{"x":{"field":"f","type":"quantitative","scale":{"domain":[5,50],"nice":false,"zero":false},"axis":{"values":[5,10,20,30,40,50],"tickCount":20,"format":"d","labelOverlap":false,"title":"Frequency (Hz)"}},"y":{"field":"c","type":"quantitative","scale":{"domain":[0,0.03],"nice":false},"axis":{"values":[0,0.01,0.02,0.03],"tickCount":20,"format":".3~f","labelOverlap":false,"title":"Coherence"}}}}]},
{"width":145,"height":54,"title":{"text":"Subject 7"},"layer":[
{"data":{"name":"bands"},"mark":{"type":"rect"},"encoding":{"x":{"field":"x1","type":"quantitative","axis":{"title":"Frequency (Hz)"}},"x2":{"field":"x2"},"color":{"field":"band","type":"nominal","scale":{"domain":["beta","gamma"],"range":["#c6c6c6","#8e8e8e"]},"legend":null}}},
{"data":{"name":"edges"},"mark":{"type":"rule","color":"#7a7a7a","strokeWidth":0.7},"encoding":{"x":{"field":"e","type":"quantitative","axis":{"title":"Frequency (Hz)"}}}},
{"data":{"name":"r7b"},"mark":{"type":"area","color":"white"},"encoding":{"x":{"field":"f","type":"quantitative","axis":{"title":"Frequency (Hz)"}},"y":{"field":"c","type":"quantitative","axis":{"title":"Coherence"}},"y2":{"datum":0.03}}},
{"data":{"name":"thr"},"mark":{"type":"rule","color":"#8c8c8c","strokeWidth":1},"encoding":{"y":{"field":"t","type":"quantitative","axis":{"title":"Coherence"}}}},
{"data":{"name":"r7b"},"mark":{"type":"line","color":"#151515","strokeWidth":1.8},"encoding":{"x":{"field":"f","type":"quantitative","scale":{"domain":[5,50],"nice":false,"zero":false},"axis":{"values":[5,10,20,30,40,50],"tickCount":20,"format":"d","labelOverlap":false,"title":"Frequency (Hz)"}},"y":{"field":"c","type":"quantitative","scale":{"domain":[0,0.03],"nice":false},"axis":{"values":[0,0.01,0.02,0.03],"tickCount":20,"format":".3~f","labelOverlap":false,"title":"Coherence"}}}}]},
{"width":146,"height":54,"layer":[
{"data":{"name":"bands"},"mark":{"type":"rect"},"encoding":{"x":{"field":"x1","type":"quantitative","axis":{"title":"Frequency (Hz)"}},"x2":{"field":"x2"},"color":{"field":"band","type":"nominal","scale":{"domain":["beta","gamma"],"range":["#c6c6c6","#8e8e8e"]},"legend":null}}},
{"data":{"name":"edges"},"mark":{"type":"rule","color":"#7a7a7a","strokeWidth":0.7},"encoding":{"x":{"field":"e","type":"quantitative","axis":{"title":"Frequency (Hz)"}}}},
{"data":{"name":"r7c"},"mark":{"type":"area","color":"white"},"encoding":{"x":{"field":"f","type":"quantitative","axis":{"title":"Frequency (Hz)"}},"y":{"field":"c","type":"quantitative","axis":{"title":"Coherence"}},"y2":{"datum":0.03}}},
{"data":{"name":"thr"},"mark":{"type":"rule","color":"#8c8c8c","strokeWidth":1},"encoding":{"y":{"field":"t","type":"quantitative","axis":{"title":"Coherence"}}}},
{"data":{"name":"r7c"},"mark":{"type":"line","color":"#151515","strokeWidth":1.8},"encoding":{"x":{"field":"f","type":"quantitative","scale":{"domain":[5,50],"nice":false,"zero":false},"axis":{"values":[5,10,20,30,40,50],"tickCount":20,"format":"d","labelOverlap":false,"title":"Frequency (Hz)"}},"y":{"field":"c","type":"quantitative","scale":{"domain":[0,0.03],"nice":false},"axis":{"values":[0,0.01,0.02,0.03],"tickCount":20,"format":".3~f","labelOverlap":false,"title":"Coherence"}}}}]},
{"width":145,"height":54,"layer":[
{"data":{"name":"bands"},"mark":{"type":"rect"},"encoding":{"x":{"field":"x1","type":"quantitative","axis":{"title":"Frequency (Hz)"}},"x2":{"field":"x2"},"color":{"field":"band","type":"nominal","scale":{"domain":["beta","gamma"],"range":["#c6c6c6","#8e8e8e"]},"legend":null}}},
{"data":{"name":"edges"},"mark":{"type":"rule","color":"#7a7a7a","strokeWidth":0.7},"encoding":{"x":{"field":"e","type":"quantitative","axis":{"title":"Frequency (Hz)"}}}},
{"data":{"name":"r8a"},"mark":{"type":"area","color":"white"},"encoding":{"x":{"field":"f","type":"quantitative","axis":{"title":"Frequency (Hz)"}},"y":{"field":"c","type":"quantitative","axis":{"title":"Coherence"}},"y2":{"datum":0.045}}},
{"data":{"name":"thr"},"mark":{"type":"rule","color":"#8c8c8c","strokeWidth":1},"encoding":{"y":{"field":"t","type":"quantitative","axis":{"title":"Coherence"}}}},
{"data":{"name":"r8a"},"mark":{"type":"line","color":"#151515","strokeWidth":1.8},"encoding":{"x":{"field":"f","type":"quantitative","scale":{"domain":[5,50],"nice":false,"zero":false},"axis":{"values":[5,10,20,30,40,50],"tickCount":20,"format":"d","labelOverlap":false,"title":"Frequency (Hz)"}},"y":{"field":"c","type":"quantitative","scale":{"domain":[0,0.045],"nice":false},"axis":{"values":[0,0.02,0.04],"tickCount":20,"format":".3~f","labelOverlap":false,"title":"Coherence"}}}}]},
{"width":145,"height":54,"title":{"text":"Subject 8"},"layer":[
{"data":{"name":"bands"},"mark":{"type":"rect"},"encoding":{"x":{"field":"x1","type":"quantitative","axis":{"title":"Frequency (Hz)"}},"x2":{"field":"x2"},"color":{"field":"band","type":"nominal","scale":{"domain":["beta","gamma"],"range":["#c6c6c6","#8e8e8e"]},"legend":null}}},
{"data":{"name":"edges"},"mark":{"type":"rule","color":"#7a7a7a","strokeWidth":0.7},"encoding":{"x":{"field":"e","type":"quantitative","axis":{"title":"Frequency (Hz)"}}}},
{"data":{"name":"r8b"},"mark":{"type":"area","color":"white"},"encoding":{"x":{"field":"f","type":"quantitative","axis":{"title":"Frequency (Hz)"}},"y":{"field":"c","type":"quantitative","axis":{"title":"Coherence"}},"y2":{"datum":0.045}}},
{"data":{"name":"thr"},"mark":{"type":"rule","color":"#8c8c8c","strokeWidth":1},"encoding":{"y":{"field":"t","type":"quantitative","axis":{"title":"Coherence"}}}},
{"data":{"name":"r8b"},"mark":{"type":"line","color":"#151515","strokeWidth":1.8},"encoding":{"x":{"field":"f","type":"quantitative","scale":{"domain":[5,50],"nice":false,"zero":false},"axis":{"values":[5,10,20,30,40,50],"tickCount":20,"format":"d","labelOverlap":false,"title":"Frequency (Hz)"}},"y":{"field":"c","type":"quantitative","scale":{"domain":[0,0.045],"nice":false},"axis":{"values":[0,0.02,0.04],"tickCount":20,"format":".3~f","labelOverlap":false,"title":"Coherence"}}}}]},
{"width":146,"height":54,"layer":[
{"data":{"name":"bands"},"mark":{"type":"rect"},"encoding":{"x":{"field":"x1","type":"quantitative","axis":{"title":"Frequency (Hz)"}},"x2":{"field":"x2"},"color":{"field":"band","type":"nominal","scale":{"domain":["beta","gamma"],"range":["#c6c6c6","#8e8e8e"]},"legend":null}}},
{"data":{"name":"edges"},"mark":{"type":"rule","color":"#7a7a7a","strokeWidth":0.7},"encoding":{"x":{"field":"e","type":"quantitative","axis":{"title":"Frequency (Hz)"}}}},
{"data":{"name":"r8c"},"mark":{"type":"area","color":"white"},"encoding":{"x":{"field":"f","type":"quantitative","axis":{"title":"Frequency (Hz)"}},"y":{"field":"c","type":"quantitative","axis":{"title":"Coherence"}},"y2":{"datum":0.045}}},
{"data":{"name":"thr"},"mark":{"type":"rule","color":"#8c8c8c","strokeWidth":1},"encoding":{"y":{"field":"t","type":"quantitative","axis":{"title":"Coherence"}}}},
{"data":{"name":"r8c"},"mark":{"type":"line","color":"#151515","strokeWidth":1.8},"encoding":{"x":{"field":"f","type":"quantitative","scale":{"domain":[5,50],"nice":false,"zero":false},"axis":{"values":[5,10,20,30,40,50],"tickCount":20,"format":"d","labelOverlap":false,"title":"Frequency (Hz)"}},"y":{"field":"c","type":"quantitative","scale":{"domain":[0,0.045],"nice":false},"axis":{"values":[0,0.02,0.04],"tickCount":20,"format":".3~f","labelOverlap":false,"title":"Coherence"}}}}]},
{"width":145,"height":54,"layer":[
{"data":{"name":"bands"},"mark":{"type":"rect"},"encoding":{"x":{"field":"x1","type":"quantitative","axis":{"title":"Frequency (Hz)"}},"x2":{"field":"x2"},"color":{"field":"band","type":"nominal","scale":{"domain":["beta","gamma"],"range":["#c6c6c6","#8e8e8e"]},"legend":null}}},
{"data":{"name":"edges"},"mark":{"type":"rule","color":"#7a7a7a","strokeWidth":0.7},"encoding":{"x":{"field":"e","type":"quantitative","axis":{"title":"Frequency (Hz)"}}}},
{"data":{"name":"r9a"},"mark":{"type":"area","color":"white"},"encoding":{"x":{"field":"f","type":"quantitative","axis":{"title":"Frequency (Hz)"}},"y":{"field":"c","type":"quantitative","axis":{"title":"Coherence"}},"y2":{"datum":0.025}}},
{"data":{"name":"thr"},"mark":{"type":"rule","color":"#8c8c8c","strokeWidth":1},"encoding":{"y":{"field":"t","type":"quantitative","axis":{"title":"Coherence"}}}},
{"data":{"name":"r9a"},"mark":{"type":"line","color":"#151515","strokeWidth":1.8},"encoding":{"x":{"field":"f","type":"quantitative","scale":{"domain":[5,50],"nice":false,"zero":false},"axis":{"values":[5,10,20,30,40,50],"tickCount":20,"format":"d","labelOverlap":false,"title":"Frequency (Hz)"}},"y":{"field":"c","type":"quantitative","scale":{"domain":[0,0.025],"nice":false},"axis":{"values":[0,0.01,0.025],"tickCount":20,"format":".3~f","labelOverlap":false,"title":"Coherence"}}}}]},
{"width":145,"height":54,"title":{"text":"Grand Average"},"layer":[
{"data":{"name":"bands"},"mark":{"type":"rect"},"encoding":{"x":{"field":"x1","type":"quantitative","axis":{"title":"Frequency (Hz)"}},"x2":{"field":"x2"},"color":{"field":"band","type":"nominal","scale":{"domain":["beta","gamma"],"range":["#c6c6c6","#8e8e8e"]},"legend":null}}},
{"data":{"name":"edges"},"mark":{"type":"rule","color":"#7a7a7a","strokeWidth":0.7},"encoding":{"x":{"field":"e","type":"quantitative","axis":{"title":"Frequency (Hz)"}}}},
{"data":{"name":"r9b"},"mark":{"type":"area","color":"white"},"encoding":{"x":{"field":"f","type":"quantitative","axis":{"title":"Frequency (Hz)"}},"y":{"field":"c","type":"quantitative","axis":{"title":"Coherence"}},"y2":{"datum":0.025}}},
{"data":{"name":"thr"},"mark":{"type":"rule","color":"#8c8c8c","strokeWidth":1},"encoding":{"y":{"field":"t","type":"quantitative","axis":{"title":"Coherence"}}}},
{"data":{"name":"r9b"},"mark":{"type":"line","color":"#151515","strokeWidth":1.8},"encoding":{"x":{"field":"f","type":"quantitative","scale":{"domain":[5,50],"nice":false,"zero":false},"axis":{"values":[5,10,20,30,40,50],"tickCount":20,"format":"d","labelOverlap":false,"title":"Frequency (Hz)"}},"y":{"field":"c","type":"quantitative","scale":{"domain":[0,0.025],"nice":false},"axis":{"values":[0,0.01,0.025],"tickCount":20,"format":".3~f","labelOverlap":false,"title":"Coherence"}}}}]},
{"width":146,"height":54,"layer":[
{"data":{"name":"bands"},"mark":{"type":"rect"},"encoding":{"x":{"field":"x1","type":"quantitative","axis":{"title":"Frequency (Hz)"}},"x2":{"field":"x2"},"color":{"field":"band","type":"nominal","scale":{"domain":["beta","gamma"],"range":["#c6c6c6","#8e8e8e"]},"legend":null}}},
{"data":{"name":"edges"},"mark":{"type":"rule","color":"#7a7a7a","strokeWidth":0.7},"encoding":{"x":{"field":"e","type":"quantitative","axis":{"title":"Frequency (Hz)"}}}},
{"data":{"name":"r9c"},"mark":{"type":"area","color":"white"},"encoding":{"x":{"field":"f","type":"quantitative","axis":{"title":"Frequency (Hz)"}},"y":{"field":"c","type":"quantitative","axis":{"title":"Coherence"}},"y2":{"datum":0.025}}},
{"data":{"name":"thr"},"mark":{"type":"rule","color":"#8c8c8c","strokeWidth":1},"encoding":{"y":{"field":"t","type":"quantitative","axis":{"title":"Coherence"}}}},
{"data":{"name":"r9c"},"mark":{"type":"line","color":"#151515","strokeWidth":1.8},"encoding":{"x":{"field":"f","type":"quantitative","scale":{"domain":[5,50],"nice":false,"zero":false},"axis":{"values":[5,10,20,30,40,50],"tickCount":20,"format":"d","labelOverlap":false,"title":"Frequency (Hz)"}},"y":{"field":"c","type":"quantitative","scale":{"domain":[0,0.025],"nice":false},"axis":{"values":[0,0.01,0.025],"tickCount":20,"format":".3~f","labelOverlap":false,"title":"Coherence"}}}}]}
]
}
